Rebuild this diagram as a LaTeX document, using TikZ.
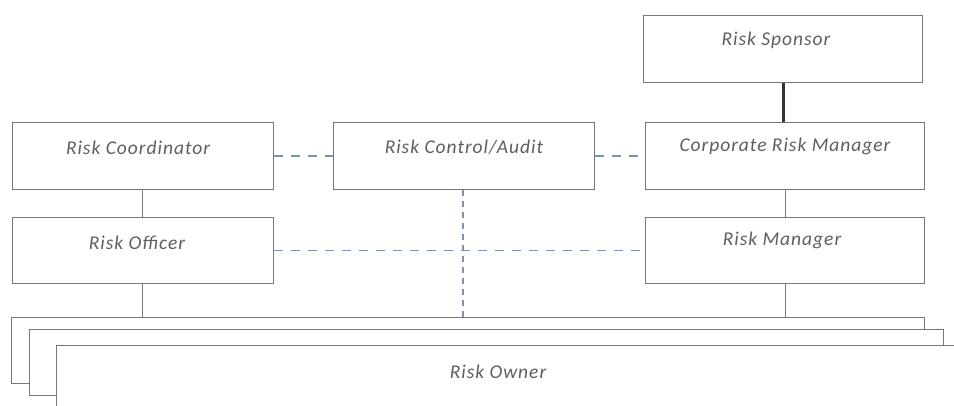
\documentclass[tikz,border=0pt]{standalone}
\usepackage{fontspec}
\setmainfont{Carlito}
\begin{document}
\begin{tikzpicture}[x=1pt,y=-1pt,
  box/.style={draw=boxgray,line width=1.1pt,fill=white,rectangle,inner sep=0pt,anchor=north west},
  lbl/.style={font=\itshape\fontsize{19.5}{22}\selectfont\addfontfeature{LetterSpace=5},text=txtgray,inner sep=0pt},
  solidlink/.style={draw=boxgray,line width=1pt},
  thicklink/.style={draw=black!80,line width=3pt},
  dashlink/.style={draw=dashblue,line width=1.8pt,dash pattern=on 9pt off 8pt},
  vdashlink/.style={draw=dashblue,line width=2.2pt,dash pattern=on 6pt off 5pt}]
\definecolor{boxgray}{RGB}{120,120,120}
\definecolor{txtgray}{RGB}{95,95,95}
\definecolor{dashblue}{RGB}{125,145,180}
\useasboundingbox (0,0) rectangle (954,406);
\begin{scope}
\clip (0,0) rectangle (954,406);
% boxes
\node[box,minimum width=279pt,minimum height=67pt] (spon) at (643,15) {};
\node[box,minimum width=279pt,minimum height=67pt] (crm) at (645,122) {};
\node[box,minimum width=261pt,minimum height=67pt] (rca) at (333,122) {};
\node[box,minimum width=261pt,minimum height=67pt] (rco) at (12,122) {};
\node[box,minimum width=261pt,minimum height=66pt] (rof) at (12,217) {};
\node[box,minimum width=279pt,minimum height=66pt] (rm) at (645,217) {};
% connectors
\draw[thicklink] (spon.south) -- (spon.south |- crm.north);
\draw[solidlink] (crm.south) -- (crm.south |- rm.north);
\draw[solidlink] ([xshift=-1pt]rco.south) -- ([xshift=-1pt]rco.south |- rof.north);
\coordinate (ownTop) at (0,317);
\draw[solidlink] ([xshift=-1pt]rof.south) -- ([xshift=-1pt]rof.south |- ownTop);
\draw[solidlink] (rm.south) -- (rm.south |- ownTop);
\draw[dashlink] (rco.east) -- (rca.west);
\draw[dashlink] (rca.east) -- (crm.west);
\draw[dashlink] (rof.east) -- (rm.west);
\draw[vdashlink] ([xshift=-1pt]rca.south) -- ([xshift=-1pt]rca.south |- ownTop);
% risk owner stack
\node[box,minimum width=913pt,minimum height=66pt] (own1) at (11,317) {};
\node[box,minimum width=914pt,minimum height=66pt] (own2) at (29,329) {};
\node[box,minimum width=920pt,minimum height=80pt] (own3) at (56,345) {};
\end{scope}
% labels
\node[lbl] (tspon) at (776,40) {Risk Sponsor};
\node[lbl] (tcrm) at (785,146) {Corporate Risk Manager};
\node[lbl] (trca) at (464,147) {Risk Control/Audit};
\node[lbl] (trco) at (138,148) {Risk Coordinator};
\node[lbl] (trof) at (137,243) {Risk Officer};
\node[lbl] (trm) at (782,240) {Risk Manager};
\node[lbl] (town) at (498,372) {Risk Owner};
\end{tikzpicture}
\end{document}
